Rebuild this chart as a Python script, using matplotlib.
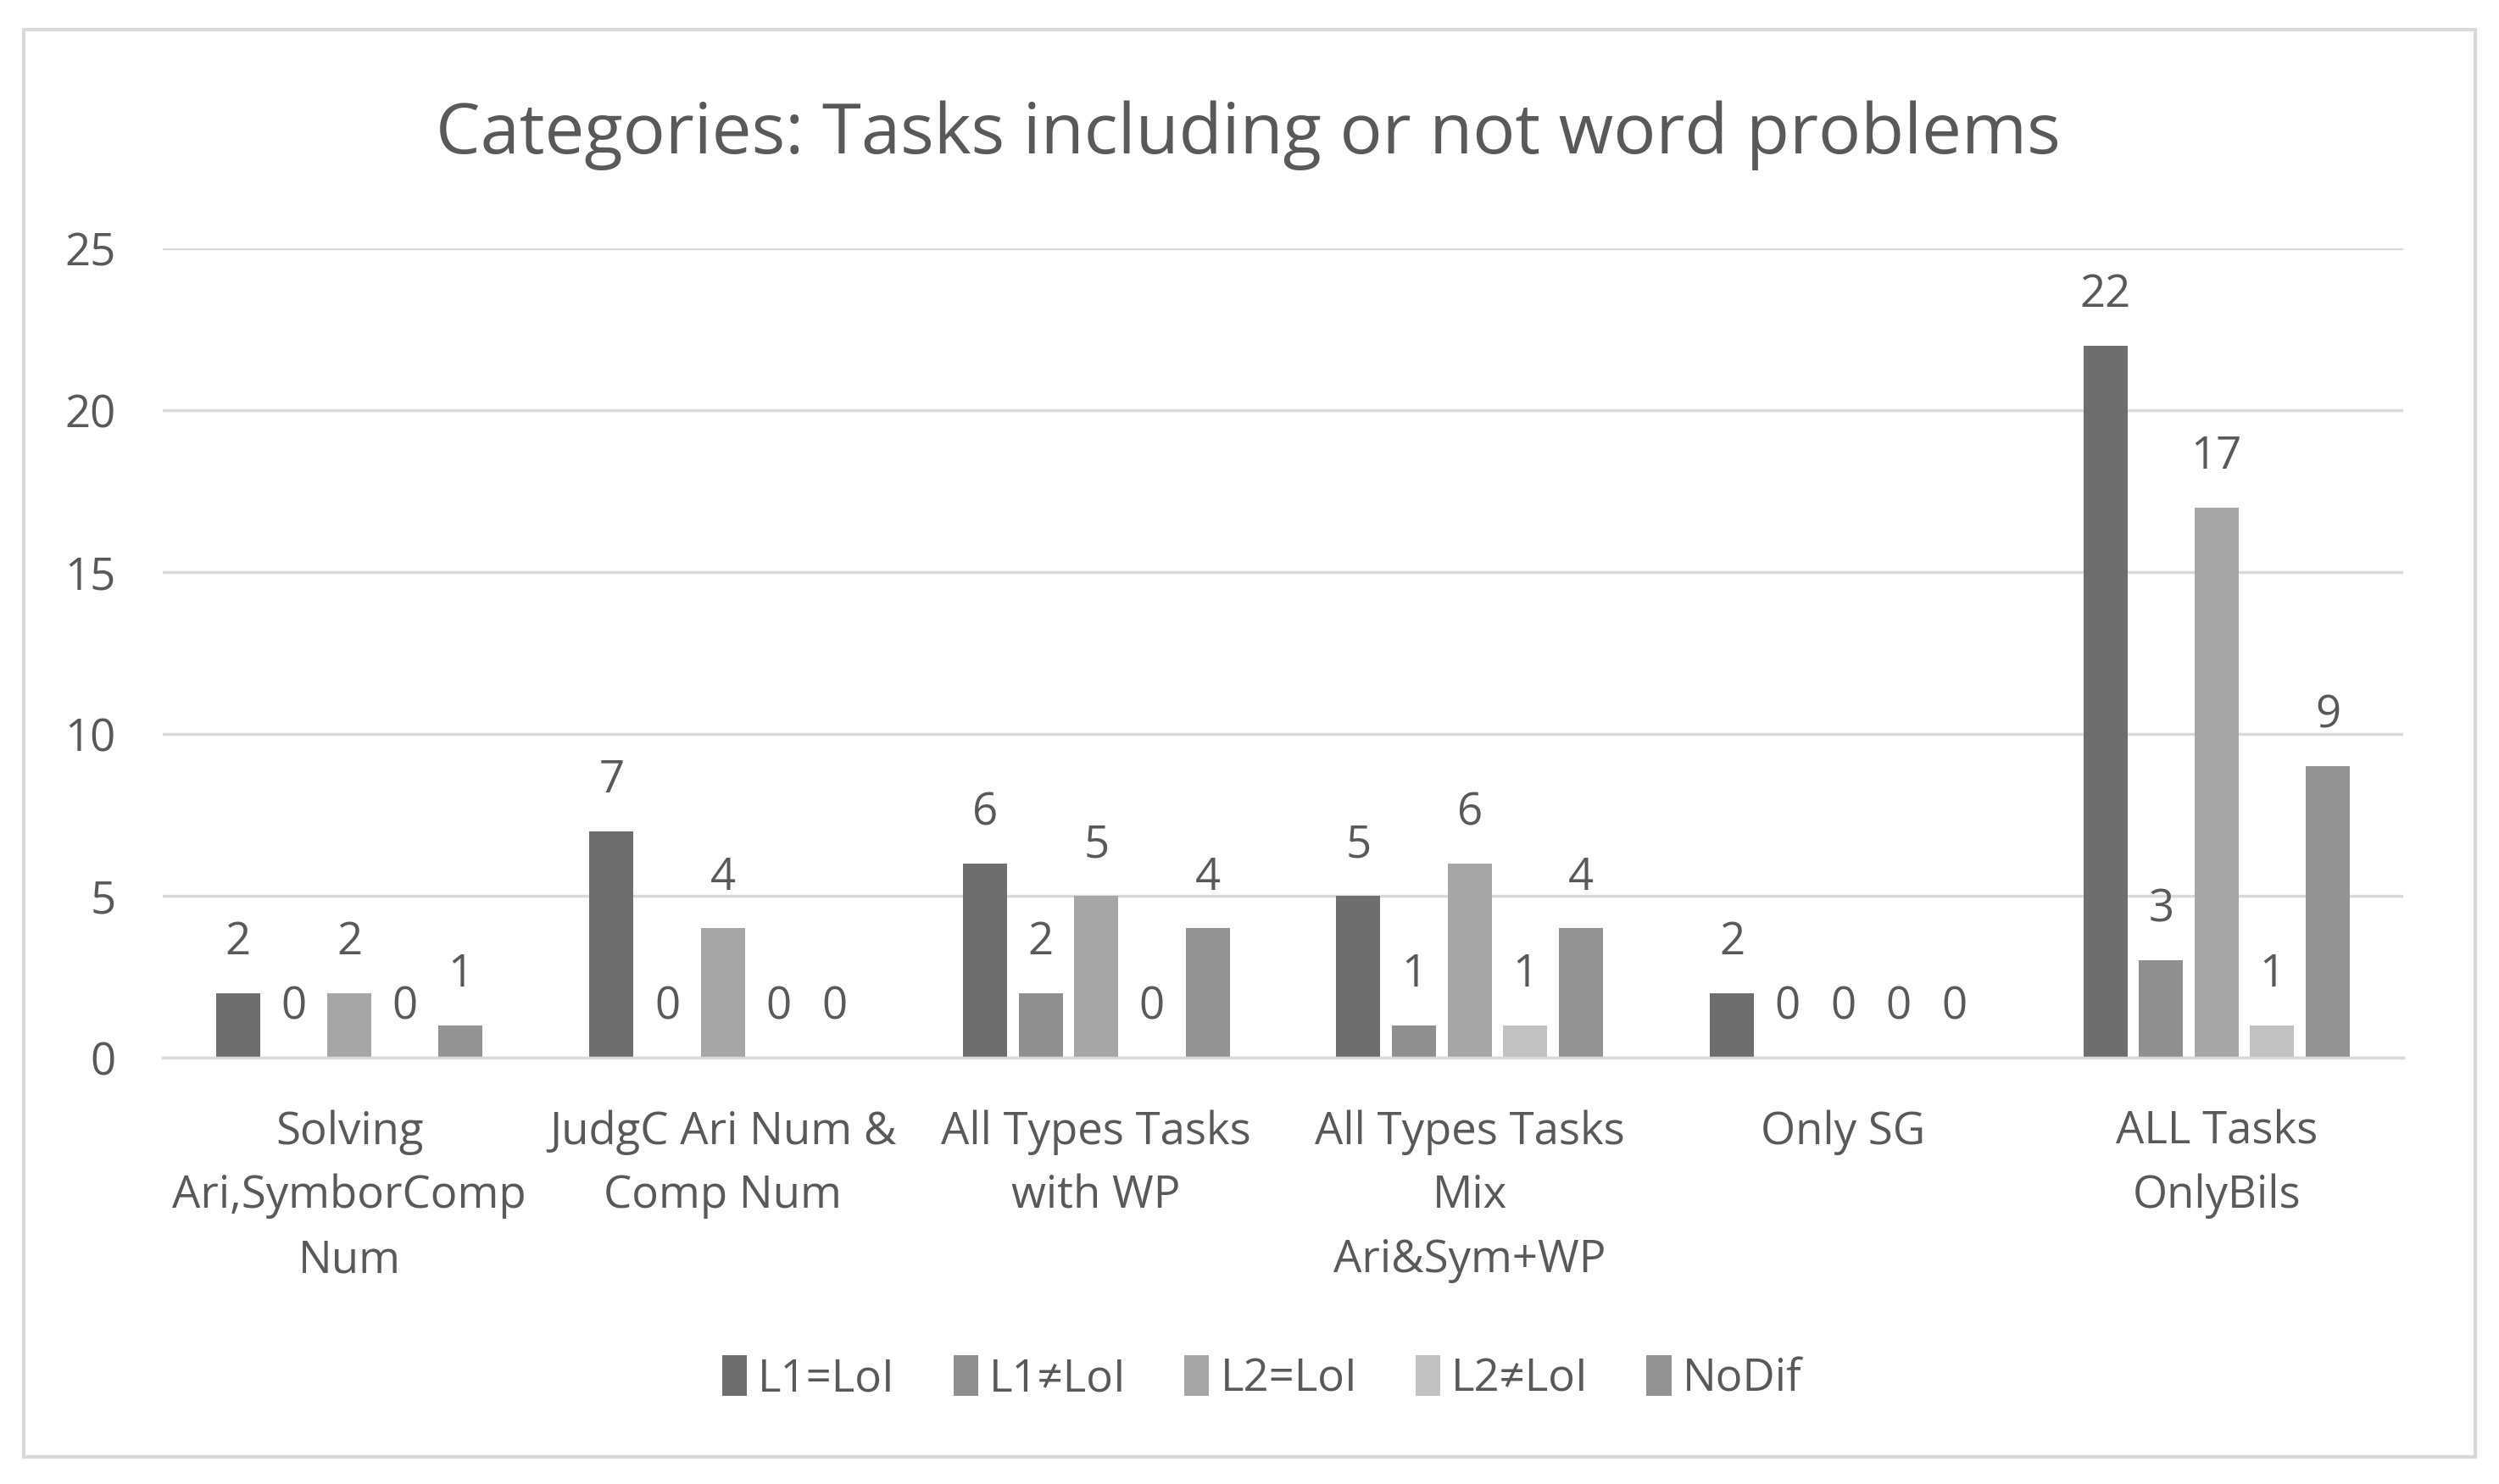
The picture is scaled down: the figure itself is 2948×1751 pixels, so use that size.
import numpy as np
import matplotlib
matplotlib.use("Agg")
import matplotlib.pyplot as plt
from matplotlib.patches import Rectangle

plt.rcParams['font.family'] = ['Open Sans', 'DejaVu Sans']

# Data
categories = ["Solving\nAri,SymborComp\nNum", "JudgC Ari Num &\nComp Num", "All Types Tasks\nwith WP",
              "All Types Tasks\nMix\nAri&Sym+WP", "Only SG", "ALL Tasks\nOnlyBils"]
series_names = ["L1=LoI", "L1\u2260LoI", "L2=LoI", "L2\u2260LoI", "NoDif"]
l1_eq = [2, 7, 6, 5, 2, 22]
l1_ne = [0, 0, 2, 1, 0, 3]
l2_eq = [2, 4, 5, 6, 0, 17]
l2_ne = [0, 0, 0, 1, 0, 1]
nodif = [1, 0, 4, 4, 0, 9]
colors = ["#6e6e6e", "#8f8f8f", "#a6a6a6", "#c2c2c2", "#939393"]

text_col = "#595959"
fig = plt.figure(figsize=(29.48, 17.51), dpi=100)
ax = fig.add_axes([0.0651, 0.2873, 0.8966, 0.5454])

x = np.arange(len(categories))
pitch = 0.149
width = 0.118
all_series = [l1_eq, l1_ne, l2_eq, l2_ne, nodif]
for i, (vals, name, c) in enumerate(zip(all_series, series_names, colors)):
    pos = x + (i - 2) * pitch
    bars = ax.bar(pos, vals, width, color=c, label=name, edgecolor=c, linewidth=0)
    for b, v in zip(bars, vals):
        ax.text(b.get_x() + b.get_width() / 2, v + 0.85, str(v), ha="center", va="bottom",
                fontsize=38, color=text_col)

ax.set_xlim(-0.5, 5.5)
ax.set_ylim(0, 25)
ax.set_yticks([0, 5, 10, 15, 20, 25])
ax.yaxis.grid(True, color="#d9d9d9", linewidth=2.5)
ax.set_axisbelow(True)
for s in ["top", "right", "left"]:
    ax.spines[s].set_visible(False)
ax.spines["bottom"].set_color("#d9d9d9")
ax.spines["bottom"].set_linewidth(2.5)
ax.tick_params(axis="both", length=0, labelsize=38, colors=text_col)
ax.tick_params(axis="y", pad=40)
ax.set_xticks(x)
ax.set_xticklabels(categories, linespacing=1.55, va="top")
ax.tick_params(axis="x", pad=44)

fig.text(0.4995, 0.909, "Categories: Tasks including or not word problems", ha="center", va="center",
         fontsize=60, color=text_col)

fig.legend(loc="center", bbox_to_anchor=(0.505, 0.071), ncol=5, frameon=False, fontsize=38,
           labelcolor=text_col, handlelength=0.55, handleheight=1.0, handletextpad=0.25, columnspacing=1.3)

fig.patches.append(Rectangle((0.0095, 0.018), 0.981, 0.962, transform=fig.transFigure,
                             fill=False, edgecolor="#d9d9d9", linewidth=3))

fig.savefig("out.png", dpi=100, facecolor="white")
